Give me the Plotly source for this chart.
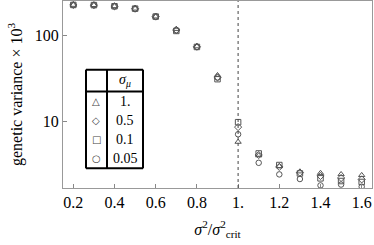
import plotly.graph_objects as go

x_vals = [0.2, 0.3, 0.4, 0.5, 0.6, 0.7, 0.8, 0.9, 1.0, 1.1, 1.2, 1.3, 1.4, 1.5, 1.6]
var_s1 = [230, 229, 222, 208, 168, 120, 75, 34.5, 5.7, 3.95, 2.95, 2.56, 2.46, 2.38, 2.32]
var_s05 = [230, 229, 222, 208, 168, 117, 74.5, 32.5, 8.5, 4.0, 2.9, 2.48, 2.27, 2.15, 2.07]
var_s01 = [230, 229, 222, 208, 168, 114, 74, 31.0, 9.7, 4.17, 3.05, 2.43, 2.13, 1.98, 1.93]
var_s005 = [230, 229, 222, 208, 168, 116, 74, 32.5, 7.0, 3.24, 2.37, 2.09, 1.76, 1.8, 1.7]

legend_labels = ["1.", "0.5", "0.1", "0.05"]
legend_symbols = ["△", "◇", "□", "○"]

x_ticks = [0.2, 0.4, 0.6, 0.8, 1.0, 1.2, 1.4, 1.6]
x_ticktext = ["0.2", "0.4", "0.6", "0.8", "1.", "1.2", "1.4", "1.6"]
y_ticks = [10, 100]
y_ticktext = ["10", "100"]

series = [
    (var_s1, "triangle-up-open"),
    (var_s05, "diamond-open"),
    (var_s01, "square-open"),
    (var_s005, "circle-open"),
]

FONT = "Liberation Serif, Times New Roman, DejaVu Serif, serif"
fig = go.Figure()
for vals, sym in series:
    fig.add_trace(go.Scatter(
        x=x_vals, y=vals, mode="markers",
        marker=dict(symbol=sym, size=5.5, color="#555555", line=dict(width=1, color="#666666")),
        showlegend=False,
    ))

# critical line
fig.add_shape(type="line", xref="x", yref="paper", x0=1.0, x1=1.0, y0=0, y1=1,
              line=dict(color="#444444", width=1, dash="dot"))

# legend table (plot-area fractions)
L, D, R = 0.0744, 0.1424, 0.2589
T, H, B = 0.633, 0.516, 0.105
for (x0, y0, x1, y1) in [(L, B, L, T), (D, B, D, T), (R, B, R, T), (L, T, R, T), (L, H, R, H), (L, B, R, B)]:
    fig.add_shape(type="line", xref="paper", yref="paper", x0=x0, y0=y0, x1=x1, y1=y1,
                  line=dict(color="black", width=2))

fig.add_annotation(xref="paper", yref="paper", x=(D + R) / 2, y=(T + H) / 2,
                   xanchor="center", yanchor="middle",
                   text="<i>σ</i><sub><i>μ</i></sub>", showarrow=False,
                   font=dict(family=FONT, size=14, color="black"))
row_h = (H - B) / 4
for i, (lab, sym) in enumerate(zip(legend_labels, legend_symbols)):
    yc = H - row_h * (i + 0.5)
    fig.add_annotation(xref="paper", yref="paper", x=(D + R) / 2, y=yc, text=lab,
                       xanchor="center", yanchor="middle",
                       showarrow=False, font=dict(family=FONT, size=14, color="black"))
    fig.add_annotation(xref="paper", yref="paper", x=(L + D) / 2, y=yc, text=sym,
                       xanchor="center", yanchor="middle",
                       showarrow=False, font=dict(family="DejaVu Sans", size=10, color="#444444"))

fig.update_layout(
    width=374, height=245,
    margin=dict(l=63, r=2, t=1, b=57),
    plot_bgcolor="white", paper_bgcolor="white",
    font=dict(family=FONT, size=16, color="black"),
    xaxis=dict(range=[0.15, 1.65], tickvals=x_ticks, ticktext=x_ticktext,
               ticks="inside", ticklen=4, tickcolor="#888888",
               showline=True, linecolor="#999999", linewidth=1, mirror=True,
               showgrid=False, zeroline=False,
               title=dict(text="<i>σ</i><sup>2</sup>/<i>σ</i><sup>2</sup><sub>crit</sub>",
                          font=dict(family=FONT, size=16), standoff=13)),
    yaxis=dict(type="log", range=[0.215, 2.408], tickvals=y_ticks, ticktext=y_ticktext,
               ticks="inside", ticklen=4, tickcolor="#888888",
               showline=True, linecolor="#999999", linewidth=1, mirror=True,
               showgrid=False, zeroline=False,
               title=dict(text="genetic variance × 10<sup>3</sup>",
                          font=dict(family=FONT, size=16), standoff=8)),
)

fig.write_html("out.html", config={"displayModeBar": False},
               post_script="document.body.style.margin='0';document.body.style.padding='0';")
